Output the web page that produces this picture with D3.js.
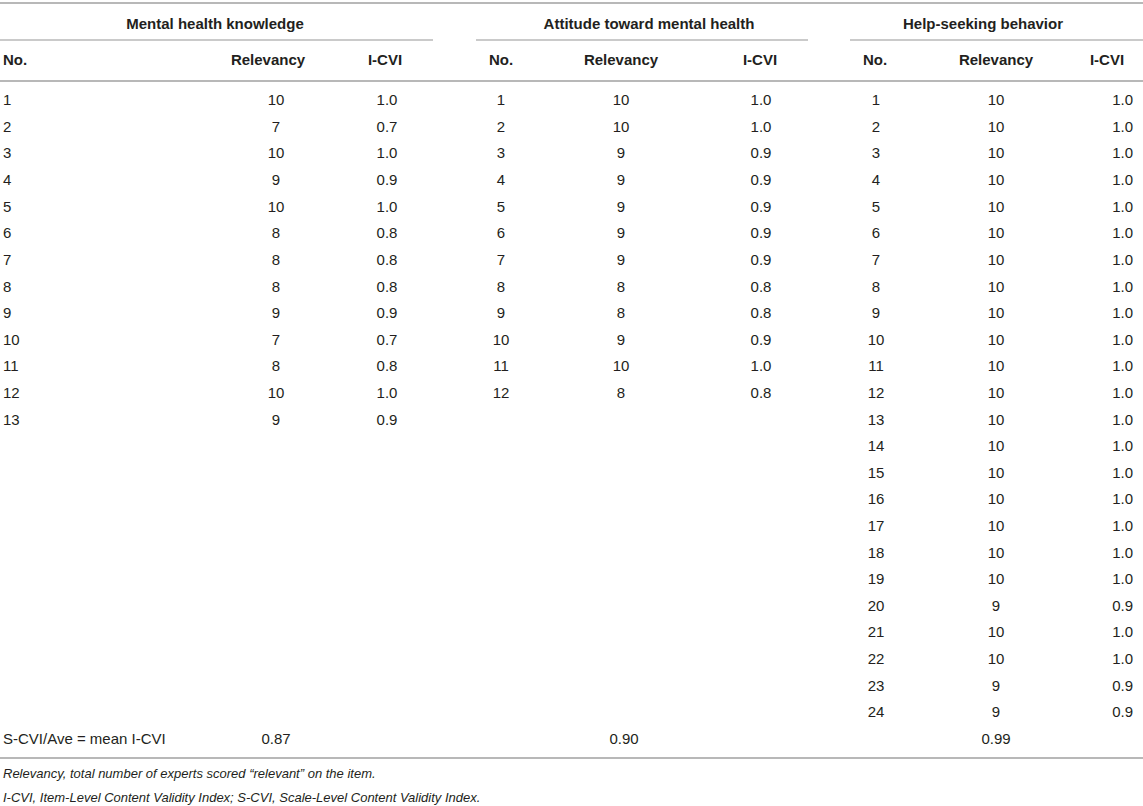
<!DOCTYPE html>
<html>
<head>
<meta charset="utf-8">
<script src="https://cdn.jsdelivr.net/npm/d3@7"></script>
<style>
  body { margin: 0; background: #fff; }
  svg text { font-family: "Liberation Sans", Arial, sans-serif; fill: #231f20; }
</style>
</head>
<body>
<div id="table"></div>
<script>
// groups of the table
const groups = ['Mental health knowledge', 'Attitude toward mental health', 'Help-seeking behavior'];
const colHeaders = ['No.', 'Relevancy', 'I-CVI'];

// per group values
const knowledgeRelevancy = [10, 7, 10, 9, 10, 8, 8, 8, 9, 7, 8, 10, 9];
const knowledgeICVI = ['1.0', '0.7', '1.0', '0.9', '1.0', '0.8', '0.8', '0.8', '0.9', '0.7', '0.8', '1.0', '0.9'];
const attitudeRelevancy = [10, 10, 9, 9, 9, 9, 9, 8, 8, 9, 10, 8];
const attitudeICVI = ['1.0', '1.0', '0.9', '0.9', '0.9', '0.9', '0.9', '0.8', '0.8', '0.9', '1.0', '0.8'];
const helpRelevancy = [10, 10, 10, 10, 10, 10, 10, 10, 10, 10, 10, 10, 10, 10, 10, 10, 10, 10, 10, 9, 10, 10, 9, 9];
const helpICVI = ['1.0', '1.0', '1.0', '1.0', '1.0', '1.0', '1.0', '1.0', '1.0', '1.0', '1.0', '1.0',
                  '1.0', '1.0', '1.0', '1.0', '1.0', '1.0', '1.0', '0.9', '1.0', '1.0', '0.9', '0.9'];
const scviValues = ['0.87', '0.90', '0.99'];
const scviLabel = 'S-CVI/Ave = mean I-CVI';
const footnotes = [
  'Relevancy, total number of experts scored \u201crelevant\u201d on the item.',
  'I-CVI, Item-Level Content Validity Index; S-CVI, Scale-Level Content Validity Index.'
];

const W = 1143, H = 806;
const svg = d3.select('#table').append('svg')
    .attr('width', W)
    .attr('height', H);

// layout of each group block
const layout = [
  { lineX: [0, 433], titleX: 215, no: { x: 3, a: 'start' }, noHead: { x: 3, a: 'start' },
    rel: 276, relHead: 268, icvi: { x: 387, a: 'middle' }, icviHead: 385, scvi: 276 },
  { lineX: [476, 808], titleX: 649, no: { x: 501, a: 'middle' }, noHead: { x: 501, a: 'middle' },
    rel: 621, relHead: 621, icvi: { x: 761, a: 'middle' }, icviHead: 760, scvi: 624 },
  { lineX: [850, 1143], titleX: 983, no: { x: 876, a: 'middle' }, noHead: { x: 875, a: 'middle' },
    rel: 996, relHead: 996, icvi: { x: 1133, a: 'end' }, icviHead: 1107, scvi: 996 }
];
const relevancy = [knowledgeRelevancy, attitudeRelevancy, helpRelevancy];
const icvi = [knowledgeICVI, attitudeICVI, helpICVI];

const maxRows = d3.max(relevancy, d => d.length);
const y = d3.scaleLinear().domain([0, maxRows - 1]).range([100, 712]);

const fs = 15;

function line(x1, x2, yy, w) {
  svg.append('line')
    .attr('x1', x1).attr('x2', x2)
    .attr('y1', yy).attr('y2', yy)
    .attr('stroke', '#b8b8b8')
    .attr('stroke-width', w);
}

line(0, W, 3, 2);
line(0, W, 81, 2);
line(0, W, 758, 2);

groups.forEach((g, gi) => {
  const L = layout[gi];
  line(L.lineX[0], L.lineX[1], 40, 1.5);

  svg.append('text')
    .attr('x', L.titleX).attr('y', 24)
    .attr('dy', '0.35em')
    .attr('text-anchor', 'middle')
    .attr('font-weight', 'bold')
    .attr('font-size', fs)
    .text(g);

  const headPos = [L.noHead, { x: L.relHead, a: 'middle' }, { x: L.icviHead, a: 'middle' }];
  colHeaders.forEach((h, hi) => {
    svg.append('text')
      .attr('x', headPos[hi].x).attr('y', 60)
      .attr('dy', '0.35em')
      .attr('text-anchor', headPos[hi].a)
      .attr('font-weight', 'bold')
      .attr('font-size', fs)
      .text(h);
  });

  const rows = relevancy[gi].map((r, i) => ({ no: i + 1, rel: r, icvi: icvi[gi][i] }));
  const rowG = svg.selectAll('.row-' + gi)
    .data(rows)
    .enter().append('g')
    .attr('class', 'row-' + gi)
    .attr('transform', (d, i) => `translate(0,${y(i)})`);

  rowG.append('text')
    .attr('x', L.no.x).attr('dy', '0.35em')
    .attr('text-anchor', L.no.a)
    .attr('font-size', fs)
    .text(d => d.no);
  rowG.append('text')
    .attr('x', L.rel).attr('dy', '0.35em')
    .attr('text-anchor', 'middle')
    .attr('font-size', fs)
    .text(d => d.rel);
  rowG.append('text')
    .attr('x', L.icvi.x).attr('dy', '0.35em')
    .attr('text-anchor', L.icvi.a)
    .attr('font-size', fs)
    .text(d => d.icvi);

  svg.append('text')
    .attr('x', L.scvi).attr('y', y(maxRows))
    .attr('dy', '0.35em')
    .attr('text-anchor', 'middle')
    .attr('font-size', fs)
    .text(scviValues[gi]);
});

svg.append('text')
  .attr('x', 3).attr('y', y(maxRows))
  .attr('dy', '0.35em')
  .attr('font-size', fs)
  .text(scviLabel);

svg.selectAll('.foot')
  .data(footnotes)
  .enter().append('text')
  .attr('class', 'foot')
  .attr('x', 3)
  .attr('y', (d, i) => 773 + i * 24)
  .attr('dy', '0.35em')
  .attr('font-size', 13)
  .attr('font-style', 'italic')
  .text(d => d);
</script>
</body>
</html>
